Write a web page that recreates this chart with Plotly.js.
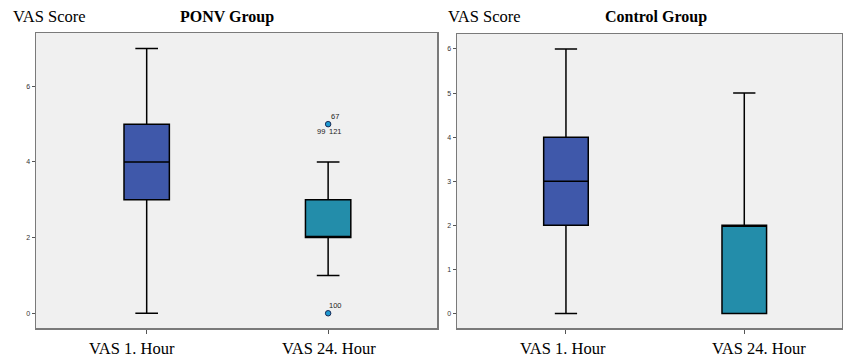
<!DOCTYPE html>
<html>
<head>
<meta charset="utf-8">
<script src="https://cdn.plot.ly/plotly-3.0.1.min.js"></script>
<style>html,body{margin:0;padding:0;background:#fff;}#chart{width:843px;height:358px;}</style>
</head>
<body>
<div id="chart"></div>
<script>
// ---- data ----
const categories = ['VAS 1. Hour', 'VAS 24. Hour'];
const groupTitles = ['PONV Group', 'Control Group'];
const yTitle = 'VAS Score';

// PONV group box statistics [1h, 24h]
const ponvLower  = [0, 1];
const ponvQ1     = [3, 2];
const ponvMedian = [4, 2];
const ponvQ3     = [5, 3];
const ponvUpper  = [7, 4];

// Control group box statistics [1h, 24h]
const ctrlLower  = [0, 0];
const ctrlQ1     = [2, 0];
const ctrlMedian = [3, 2];
const ctrlQ3     = [4, 2];
const ctrlUpper  = [6, 5];

// PONV 24h outliers
const outlierValues = [5, 0];
const outlierLabelTexts = ['67', '99', '121', '100'];
const outlierLabelValues = [5, 5, 5, 0];

const boxColors = ['#3F58AA', '#238DAA'];

// ---- traces ----
function boxTrace(cat, lo, q1, med, q3, hi, color, xa, ya) {
  return {
    type: 'box', x: [cat], lowerfence: [lo], q1: [q1], median: [med], q3: [q3], upperfence: [hi],
    fillcolor: color, line: {color: '#000', width: 1.5}, width: 0.25, whiskerwidth: 0.5,
    boxpoints: false, xaxis: xa, yaxis: ya, showlegend: false, hoverinfo: 'skip'
  };
}
const traces = [];
for (let i = 0; i < 2; i++) {
  traces.push(boxTrace(categories[i], ponvLower[i], ponvQ1[i], ponvMedian[i], ponvQ3[i], ponvUpper[i], boxColors[i], 'x', 'y'));
  traces.push(boxTrace(categories[i], ctrlLower[i], ctrlQ1[i], ctrlMedian[i], ctrlQ3[i], ctrlUpper[i], boxColors[i], 'x2', 'y2'));
}
traces.push({
  type: 'scatter', mode: 'markers', x: outlierValues.map(() => categories[1]), y: outlierValues,
  marker: {size: 5.5, color: '#1E9AD2', line: {color: '#1A2A55', width: 1}},
  xaxis: 'x', yaxis: 'y', showlegend: false, hoverinfo: 'skip'
});

// ---- annotations ----
const labelShifts = [[7, 8], [-7, -7], [7, -7], [7, 8]];
const annotations = outlierLabelTexts.map((t, i) => ({
  text: t, x: categories[1], y: outlierLabelValues[i], xref: 'x', yref: 'y', showarrow: false,
  xshift: labelShifts[i][0], yshift: labelShifts[i][1],
  font: {family: 'Liberation Sans, Arial', size: 7.5, color: '#222'}
}));
const serif = 'Liberation Serif, Times New Roman, serif';
// category labels under each panel (offsets as placed in the original)
const catShifts = [[-15, 1], [-3, 15]];
['x', 'x2'].forEach((xa, p) => {
  const ya = p === 0 ? 'y domain' : 'y2 domain';
  categories.forEach((c, i) => annotations.push({
    text: c, x: c, xref: xa, y: 0, yref: ya, yanchor: 'middle', yshift: -20,
    xshift: catShifts[p][i], showarrow: false, font: {family: serif, size: 16.5, color: '#000'}
  }));
});
annotations.push(
  {text: yTitle, xref: 'paper', yref: 'paper', x: 11/843, y: 1 - 17/358, xanchor: 'left', yanchor: 'middle', showarrow: false, font: {family: serif, size: 16.5, color: '#000'}},
  {text: '<b>' + groupTitles[0] + '</b>', xref: 'paper', yref: 'paper', x: 226.5/843, y: 1 - 17/358, xanchor: 'center', yanchor: 'middle', showarrow: false, font: {family: serif, size: 16, color: '#000'}},
  {text: yTitle, xref: 'paper', yref: 'paper', x: 446/843, y: 1 - 17/358, xanchor: 'left', yanchor: 'middle', showarrow: false, font: {family: serif, size: 16.5, color: '#000'}},
  {text: '<b>' + groupTitles[1] + '</b>', xref: 'paper', yref: 'paper', x: 656/843, y: 1 - 17/358, xanchor: 'center', yanchor: 'middle', showarrow: false, font: {family: serif, size: 16, color: '#000'}}
);

// ---- layout ----
const xCommon = {
  type: 'category', showline: true, linecolor: '#7a7a7a', linewidth: 1.5, mirror: true,
  ticks: 'outside', ticklen: 4, tickcolor: '#555', showgrid: false, zeroline: false,
  showticklabels: false, fixedrange: true
};
const yCommon = {
  showline: true, linecolor: '#7a7a7a', linewidth: 1.5, mirror: true,
  ticks: 'outside', ticklen: 3, tickcolor: '#555', showgrid: false, zeroline: false,
  tickfont: {family: 'Liberation Sans, Arial', size: 7, color: '#333'}, fixedrange: true
};
const layout = {
  width: 843, height: 358, autosize: false,
  margin: {l: 0, r: 0, t: 0, b: 0},
  paper_bgcolor: '#fff', plot_bgcolor: '#F0F0F0',
  showlegend: false,
  xaxis: Object.assign({}, xCommon, {domain: [36/843, 437/843], range: [-0.61, 1.60], anchor: 'y'}),
  yaxis: Object.assign({}, yCommon, {domain: [30/358, 325/358], range: [-0.39, 7.41], tickvals: [0, 2, 4, 6], anchor: 'x'}),
  xaxis2: Object.assign({}, xCommon, {domain: [457/843, 842/843], range: [-0.611, 1.548], anchor: 'y2'}),
  yaxis2: Object.assign({}, yCommon, {domain: [30/358, 324/358], range: [-0.33, 6.34], tickvals: [0, 1, 2, 3, 4, 5, 6], anchor: 'x2'}),
  annotations: annotations
};
Plotly.newPlot('chart', traces, layout, {displayModeBar: false, staticPlot: true});
</script>
</body>
</html>
